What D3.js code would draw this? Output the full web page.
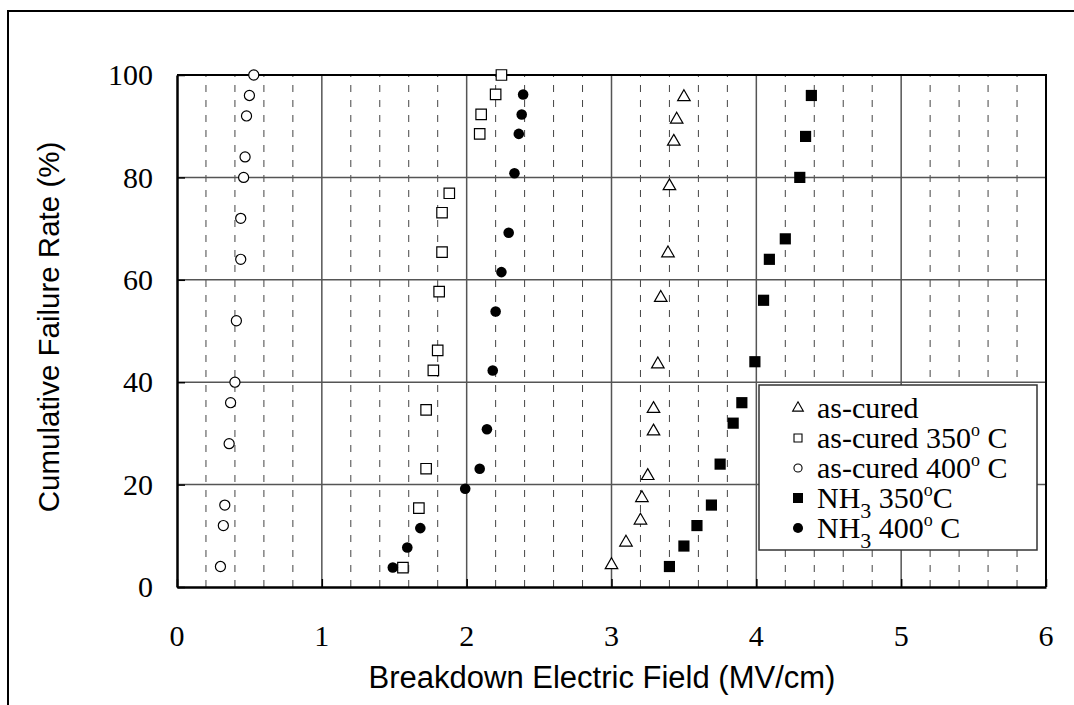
<!DOCTYPE html>
<html>
<head>
<meta charset="utf-8">
<script src="https://cdn.jsdelivr.net/npm/d3@7"></script>
<style>
  body { margin: 0; background: #fff; }
  svg { display: block; }
</style>
</head>
<body>
<svg id="svg" width="1074" height="705"></svg>
<script>
// breakdown field (MV/cm) vs cumulative failure rate (%)
var asCuredX = [3.50, 3.45, 3.43, 3.40, 3.39, 3.34, 3.32, 3.29, 3.29, 3.25, 3.21, 3.20, 3.10, 3.00];
var asCuredY = [95.7, 91.3, 87.0, 78.3, 65.2, 56.5, 43.5, 34.8, 30.4, 21.7, 17.4, 13.0, 8.7, 4.3];

var cured350X = [2.24, 2.20, 2.10, 2.09, 1.88, 1.83, 1.83, 1.81, 1.80, 1.77, 1.72, 1.72, 1.67, 1.56];
var cured350Y = [100, 96.2, 92.3, 88.5, 76.9, 73.1, 65.4, 57.7, 46.2, 42.3, 34.6, 23.1, 15.4, 3.8];

var cured400X = [0.53, 0.50, 0.48, 0.47, 0.46, 0.44, 0.44, 0.41, 0.40, 0.37, 0.36, 0.33, 0.32, 0.30];
var cured400Y = [100, 96, 92, 84, 80, 72, 64, 52, 40, 36, 28, 16, 12, 4];

var nh350X = [4.38, 4.34, 4.30, 4.20, 4.09, 4.05, 3.99, 3.90, 3.84, 3.75, 3.69, 3.59, 3.50, 3.40];
var nh350Y = [96, 88, 80, 68, 64, 56, 44, 36, 32, 24, 16, 12, 8, 4];

var nh400X = [2.39, 2.38, 2.36, 2.33, 2.29, 2.24, 2.20, 2.18, 2.14, 2.09, 1.99, 1.68, 1.59, 1.49];
var nh400Y = [96.2, 92.3, 88.5, 80.8, 69.2, 61.5, 53.8, 42.3, 30.8, 23.1, 19.2, 11.5, 7.7, 3.8];

var xTicks = [0, 1, 2, 3, 4, 5, 6];
var yTicks = [0, 20, 40, 60, 80, 100];
var xMinor = [0.2, 0.4, 0.6, 0.8, 1.2, 1.4, 1.6, 1.8, 2.2, 2.4, 2.6, 2.8, 3.2, 3.4, 3.6, 3.8, 4.2, 4.4, 4.6, 4.8, 5.2, 5.4, 5.6, 5.8];

// legend: each label is a list of [text, shift]
var legendLabels = [
	[["as-cured", ""]],
	[["as-cured 350", ""], ["o", "sup"], [" C", ""]],
	[["as-cured 400", ""], ["o", "sup"], [" C", ""]],
	[["NH", ""], ["3", "sub"], [" 350", ""], ["o", "sup"], ["C", ""]],
	[["NH", ""], ["3", "sub"], [" 400", ""], ["o", "sup"], [" C", ""]]
];

var series = [
	{x: asCuredX, y: asCuredY, type: d3.symbolTriangle, size: 68, legendSize: 50, filled: false},
	{x: cured350X, y: cured350Y, type: d3.symbolSquare, size: 110, legendSize: 64, filled: false},
	{x: cured400X, y: cured400Y, type: d3.symbolCircle, size: 80, legendSize: 52, filled: false},
	{x: nh350X, y: nh350Y, type: d3.symbolSquare, size: 125, legendSize: 100, filled: true},
	{x: nh400X, y: nh400Y, type: d3.symbolCircle, size: 88, legendSize: 80, filled: true}
];

var svg = d3.select("#svg");
// note: "top" is taken by window.top, so prefix these
var plotLeft = 177, plotRight = 1046, plotTop = 75, plotBottom = 587;

var x = d3.scaleLinear().domain([0, 6]).range([plotLeft, plotRight]);
var y = d3.scaleLinear().domain([0, 100]).range([plotBottom, plotTop]);

var serif = "'Liberation Serif', 'Times New Roman', serif";
var sans = "'Liberation Sans', Arial, sans-serif";

// outer frame (top + left only, rest is cropped)
svg.append("path")
	.attr("d", "M8,705 L8,11 L1074,11")
	.attr("fill", "none")
	.attr("stroke", "#000")
	.attr("stroke-width", 2);

// minor dashed verticals
svg.append("g").selectAll("line")
	.data(xMinor)
	.enter().append("line")
	.attr("x1", function(d){ return x(d); })
	.attr("x2", function(d){ return x(d); })
	.attr("y1", plotBottom)
	.attr("y2", plotTop)
	.attr("stroke", "#444")
	.attr("stroke-width", 1)
	.attr("stroke-dasharray", "7,8");

// major gridlines
svg.append("g").selectAll("line")
	.data(xTicks.slice(1, -1))
	.enter().append("line")
	.attr("x1", function(d){ return x(d); })
	.attr("x2", function(d){ return x(d); })
	.attr("y1", plotBottom)
	.attr("y2", plotTop)
	.attr("stroke", "#555")
	.attr("stroke-width", 1.5);

svg.append("g").selectAll("line")
	.data(yTicks.slice(1, -1))
	.enter().append("line")
	.attr("x1", plotLeft)
	.attr("x2", plotRight)
	.attr("y1", function(d){ return y(d); })
	.attr("y2", function(d){ return y(d); })
	.attr("stroke", "#555")
	.attr("stroke-width", 1.5);

// axes with inward ticks
var xAxis = svg.append("g")
	.attr("transform", "translate(0," + plotBottom + ")")
	.call(d3.axisBottom(x).tickValues(xTicks).tickSize(-8).tickSizeOuter(0).tickFormat(""));
var yAxis = svg.append("g")
	.attr("transform", "translate(" + plotLeft + ",0)")
	.call(d3.axisLeft(y).tickValues(yTicks).tickSize(-8).tickSizeOuter(0).tickFormat(""));
xAxis.select(".domain").attr("stroke-width", 2.5);
yAxis.select(".domain").attr("stroke-width", 2.5);
xAxis.selectAll(".tick line").attr("stroke-width", 1.5);
yAxis.selectAll(".tick line").attr("stroke-width", 1.5);

// top and right frame of the plot
svg.append("path")
	.attr("d", "M" + plotLeft + "," + plotTop + " L" + plotRight + "," + plotTop + " L" + plotRight + "," + plotBottom)
	.attr("fill", "none")
	.attr("stroke", "#000")
	.attr("stroke-width", 2);

// tick labels
svg.append("g").selectAll("text")
	.data(xTicks)
	.enter().append("text")
	.attr("x", function(d){ return x(d); })
	.attr("y", 646)
	.attr("text-anchor", "middle")
	.attr("font-family", serif)
	.attr("font-size", 30)
	.text(function(d){ return d; });

svg.append("g").selectAll("text")
	.data(yTicks)
	.enter().append("text")
	.attr("x", 153)
	.attr("y", function(d){ return y(d); })
	.attr("dy", "0.34em")
	.attr("text-anchor", "end")
	.attr("font-family", serif)
	.attr("font-size", 30)
	.text(function(d){ return d; });

// axis titles
svg.append("text")
	.attr("x", 602)
	.attr("y", 688)
	.attr("text-anchor", "middle")
	.attr("font-family", sans)
	.attr("font-size", 31)
	.text("Breakdown Electric Field (MV/cm)");

svg.append("text")
	.attr("transform", "translate(59,327) rotate(-90)")
	.attr("text-anchor", "middle")
	.attr("font-family", sans)
	.attr("font-size", 29.5)
	.text("Cumulative Failure Rate (%)");

// points
series.forEach(function(s){
	var sym = d3.symbol().type(s.type).size(s.size);
	svg.append("g").selectAll("path")
		.data(d3.range(s.x.length))
		.enter().append("path")
		.attr("d", sym)
		.attr("transform", function(i){ return "translate(" + x(s.x[i]) + "," + y(s.y[i]) + ")"; })
		.attr("fill", s.filled ? "#000" : "#fff")
		.attr("stroke", "#000")
		.attr("stroke-width", s.filled ? 0 : 1.2);
});

// legend
var legend = svg.append("g");
legend.append("rect")
	.attr("x", 759)
	.attr("y", 385)
	.attr("width", 278)
	.attr("height", 165)
	.attr("fill", "#fff")
	.attr("stroke", "#333")
	.attr("stroke-width", 1.5);

legendLabels.forEach(function(parts, i){
	var s = series[i];
	var cy = 408 + i * 30;
	legend.append("path")
		.attr("d", d3.symbol().type(s.type).size(s.legendSize))
		.attr("transform", "translate(798," + cy + ")")
		.attr("fill", s.filled ? "#000" : "#fff")
		.attr("stroke", "#000")
		.attr("stroke-width", s.filled ? 0 : 1.1);

	var t = legend.append("text")
		.attr("x", 817)
		.attr("y", cy + 10)
		.attr("font-family", serif)
		.attr("font-size", 30);
	parts.forEach(function(p, j){
		var span = t.append("tspan").text(p[0]);
		if (p[1] == "sup") span.attr("font-size", 18).attr("dy", -12);
		if (p[1] == "sub") span.attr("font-size", 22).attr("dy", 10);
		// put baseline back after a shifted piece
		if (p[1] == "" && j > 0) {
			if (parts[j - 1][1] == "sup") span.attr("dy", 12);
			if (parts[j - 1][1] == "sub") span.attr("dy", -10);
		}
	});
});
</script>
</body>
</html>
